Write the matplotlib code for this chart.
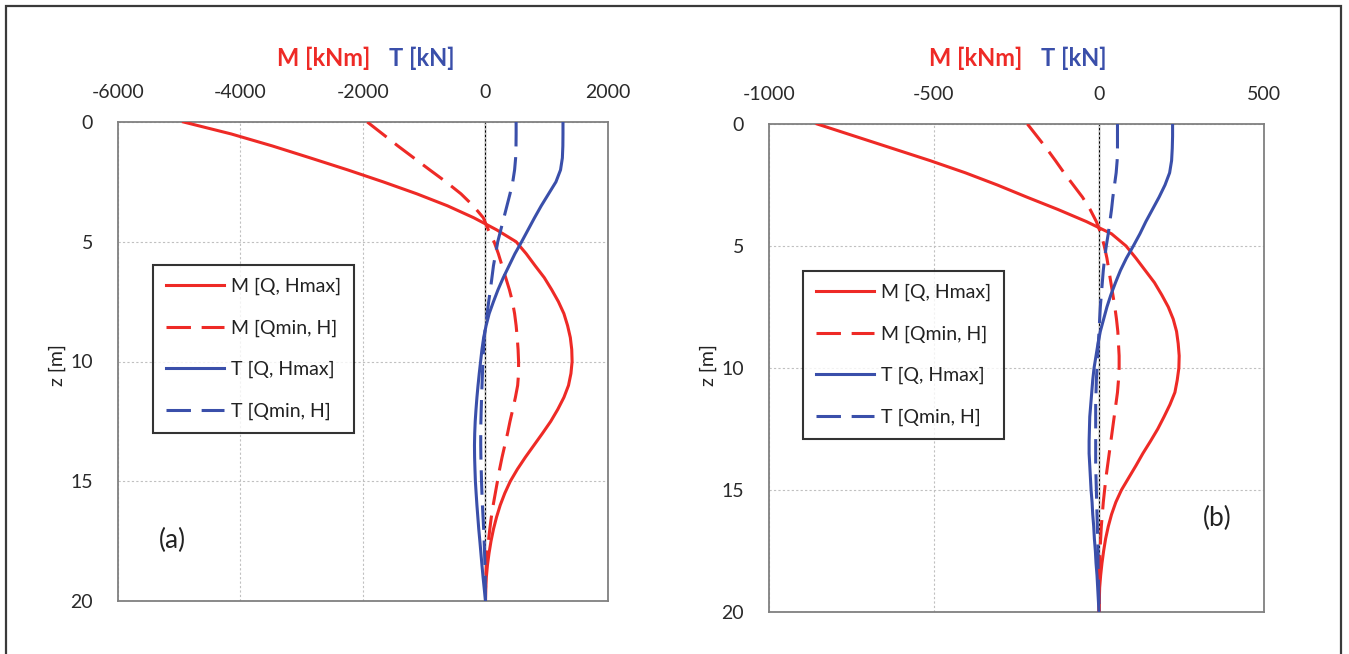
import matplotlib
matplotlib.use("Agg")
import matplotlib.pyplot as plt
from matplotlib.patches import Rectangle

plt.rcParams['font.family'] = ['Lato', 'DejaVu Sans']
plt.rcParams['axes.unicode_minus'] = False

RED = '#ee2a26'
BLUE = '#3a4faa'

# depth [m]
z = [0, 0.5, 1, 1.5, 2, 2.5, 3, 3.5, 4, 4.5, 5, 5.5, 6, 6.5, 7, 7.5, 8, 8.5, 9, 9.5, 10,
     10.5, 11, 11.5, 12, 12.5, 13, 13.5, 14, 14.5, 15, 15.5, 16, 16.5, 17, 17.5, 18,
     18.5, 19, 19.5, 20]

# panel (a)
a_M_Hmax = [-4930, -4150, -3480, -2860, -2250, -1670, -1120, -620, -190, 180, 500,
            665, 810, 960, 1080, 1190, 1280, 1340, 1385, 1408, 1414,
            1395, 1355, 1280, 1180, 1065, 930, 790, 650, 520, 405,
            315, 240, 180, 130, 90, 58, 32, 14, 4, 0]
a_M_Qmin = [-1930, -1680, -1430, -1170, -910, -645, -400, -200, -35, 45, 140,
            210, 270, 330, 390, 440, 475, 500, 518, 532, 540,
            540, 525, 488, 445, 400, 360, 315, 270, 230, 195,
            160, 125, 95, 70, 48, 30, 15, 5, 1, 0]
a_T_Hmax = [1265, 1265, 1263, 1255, 1225, 1150, 1030, 910, 800, 695, 590,
            480, 385, 290, 205, 130, 60, 10, -30, -58, -80,
            -102, -122, -140, -155, -168, -176, -180, -178, -172, -165,
            -153, -140, -125, -110, -92, -75, -58, -40, -20, 0]
a_T_Qmin = [500, 500, 498, 492, 475, 445, 400, 350, 300, 250, 200,
            165, 130, 105, 80, 52, 27, 2, -20, -32, -42,
            -50, -57, -64, -70, -75, -78, -78, -75, -70, -65,
            -58, -50, -40, -30, -22, -15, -9, -5, -2, 0]

# panel (b)
b_M_Hmax = [-854, -740, -626, -512, -405, -308, -218, -125, -38, 38, 82,
            112, 140, 168, 190, 210, 225, 235, 240, 243, 242,
            237, 230, 215, 197, 178, 156, 133, 112, 90, 68,
            51, 38, 28, 20, 14, 9, 5, 2, 1, 0]
b_M_Qmin = [-217, -188, -159, -132, -106, -78, -50, -27, -8, 6, 16,
            24, 30, 36, 42, 48, 53, 57, 59, 61, 61,
            59, 56, 51, 46, 41, 36, 31, 26, 21, 17,
            13, 10, 7, 5, 3, 2, 1, 0, 0, 0]
b_T_Hmax = [223, 223, 222, 220, 214, 200, 182, 162, 142, 124, 104,
            83, 65, 50, 36, 24, 14, 4, -3, -9, -15,
            -19, -22, -25, -28, -29, -30, -30, -28, -26, -24,
            -21, -19, -16, -14, -11, -9, -6, -4, -2, 0]
b_T_Qmin = [56, 56, 56, 55, 52, 47, 42, 38, 33, 28, 22,
            17, 13, 10, 7, 4, 2, 0, -2, -4, -6,
            -8, -9, -10, -10, -10, -10, -10, -10, -9, -8,
            -7, -6, -5, -4, -3, -3, -2, -1, 0, 0]

labels = ["M [Q, Hmax]", "M [Qmin, H]", "T [Q, Hmax]", "T [Qmin, H]"]

fig = plt.figure(figsize=(13.49, 6.54), dpi=100)

# outer frame
fig.patches.append(Rectangle((6 / 1349, -0.05), (1341 - 6) / 1349, 1.05 - 6 / 654,
                             transform=fig.transFigure, fill=False,
                             edgecolor='#3a3a3a', lw=1.6))

panels = [
    dict(rect=[118 / 1349, 1 - 601 / 654, 490 / 1349, 479 / 654],
         data=[a_M_Hmax, a_M_Qmin, a_T_Hmax, a_T_Qmin],
         xlim=(-6000, 2000), xticks=[-6000, -4000, -2000, 0, 2000],
         tag="(a)", tagpos=(172, 540), legpos=(153, 265),
         titlex=370, ylabx=57),
    dict(rect=[769 / 1349, 1 - 612 / 654, 495 / 1349, 488 / 654],
         data=[b_M_Hmax, b_M_Qmin, b_T_Hmax, b_T_Qmin],
         xlim=(-1000, 500), xticks=[-1000, -500, 0, 500],
         tag="(b)", tagpos=(1217, 518), legpos=(803, 271),
         titlex=1022, ylabx=708),
]

styles = [(RED, '-'), (RED, (0, (8, 3.5))), (BLUE, '-'), (BLUE, (0, (8, 3.5)))]

for p in panels:
    ax = fig.add_axes(p['rect'])
    ax.axvline(0, color='black', lw=0.9, zorder=1)
    for vals, (c, ls), lab in zip(p['data'], styles, labels):
        ax.plot(vals, z, color=c, linestyle=ls, lw=2.2, label=lab, zorder=3)
    ax.set_xlim(*p['xlim'])
    ax.set_ylim(20, 0)
    ax.set_xticks(p['xticks'])
    ax.set_yticks([0, 5, 10, 15, 20])
    ax.xaxis.tick_top()
    ax.tick_params(axis='both', length=0, labelsize=14, labelcolor='#2a2a2a')
    ax.tick_params(axis='x', pad=15)
    ax.tick_params(axis='y', pad=18)
    ax.grid(True, color='#c0c0c0', linestyle=(0, (2, 2)), lw=0.8, zorder=0)
    for s in ax.spines.values():
        s.set_color('#808080')
        s.set_linewidth(1.3)

    fig.text(p['ylabx'] / 1349, 1 - 365 / 654, "z [m]", rotation=90,
             ha='center', va='center', fontsize=14, color='#222222')

    ty = 1 - 58 / 654
    fig.text(p['titlex'] / 1349, ty, "M [kNm]", color=RED, fontsize=17,
             fontweight='bold', ha='right', va='center')
    fig.text((p['titlex'] + 19) / 1349, ty, "T [kN]", color=BLUE, fontsize=17,
             fontweight='bold', ha='left', va='center')

    fig.text(p['tagpos'][0] / 1349, 1 - p['tagpos'][1] / 654, p['tag'],
             fontsize=19, ha='center', va='center', color='#222222')

    leg = ax.legend(loc='upper left',
                    bbox_to_anchor=(p['legpos'][0] / 1349, 1 - p['legpos'][1] / 654),
                    bbox_transform=fig.transFigure, fontsize=14,
                    frameon=True, fancybox=False, handlelength=3.0,
                    handletextpad=0.35, labelspacing=1.25, borderpad=0.65,
                    borderaxespad=0)
    leg.get_frame().set_edgecolor('black')
    leg.get_frame().set_linewidth(1.5)
    for t in leg.get_texts():
        t.set_color('#222222')

fig.savefig("out.png", dpi=100)
